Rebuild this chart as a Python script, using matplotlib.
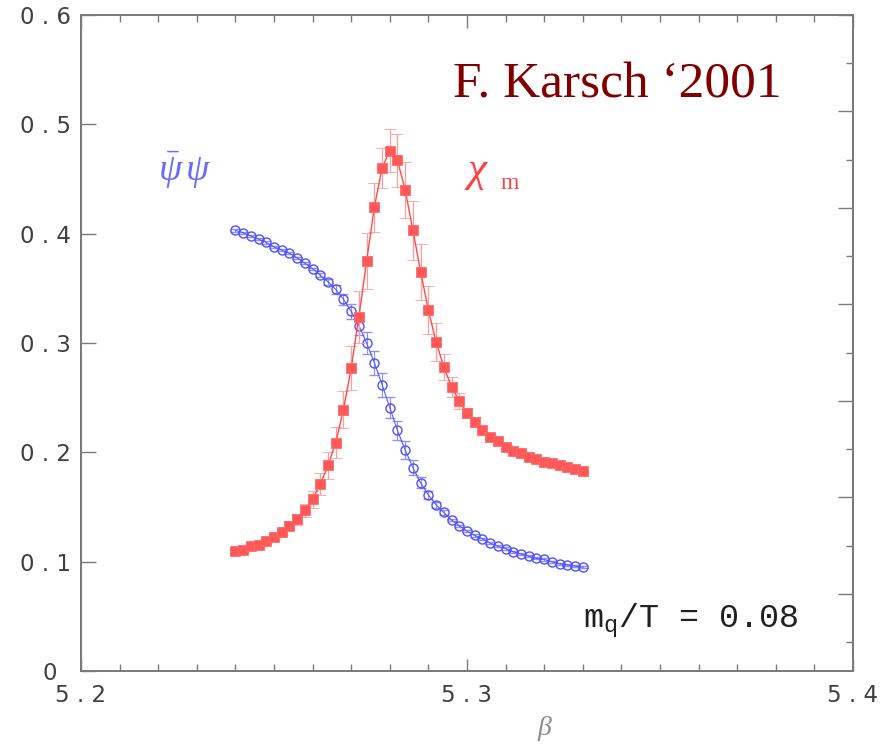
import numpy as np
import matplotlib.pyplot as plt
from matplotlib.ticker import MultipleLocator
from matplotlib.transforms import ScaledTranslation

plt.rcParams['mathtext.fontset'] = 'custom'
plt.rcParams['mathtext.rm'] = 'Liberation Serif'
plt.rcParams['mathtext.it'] = 'Liberation Serif:italic'
plt.rcParams['mathtext.tt'] = 'Liberation Mono'

# beta grid of the lattice data
beta = [5.240, 5.242, 5.244, 5.246, 5.248, 5.250, 5.252, 5.254, 5.256, 5.258,
        5.260, 5.262, 5.264, 5.266, 5.268, 5.270, 5.272, 5.274, 5.276, 5.278,
        5.280, 5.282, 5.284, 5.286, 5.288, 5.290, 5.292, 5.294, 5.296, 5.298,
        5.300, 5.302, 5.304, 5.306, 5.308, 5.310, 5.312, 5.314, 5.316, 5.318,
        5.320, 5.322, 5.324, 5.326, 5.328, 5.330]

# chiral condensate (blue circles)
pbp = [0.403, 0.401, 0.398, 0.395, 0.392, 0.388, 0.385, 0.382, 0.378, 0.373,
       0.368, 0.362, 0.356, 0.349, 0.340, 0.329, 0.316, 0.300, 0.282, 0.262,
       0.241, 0.220, 0.202, 0.186, 0.172, 0.161, 0.152, 0.145, 0.138, 0.133,
       0.128, 0.124, 0.121, 0.117, 0.114, 0.112, 0.109, 0.107, 0.105, 0.103,
       0.102, 0.100, 0.098, 0.097, 0.096, 0.095]
pbp_err = [0.001, 0.001, 0.001, 0.001, 0.001, 0.001, 0.001, 0.001, 0.001, 0.001,
           0.001, 0.002, 0.003, 0.004, 0.005, 0.007, 0.009, 0.010, 0.011, 0.011,
           0.010, 0.009, 0.008, 0.007, 0.005, 0.004, 0.003, 0.002, 0.001, 0.001,
           0.001, 0.001, 0.001, 0.001, 0.001, 0.001, 0.001, 0.001, 0.001, 0.001,
           0.001, 0.001, 0.001, 0.001, 0.001, 0.001]

# chiral susceptibility (red squares)
chi = [0.110, 0.111, 0.114, 0.115, 0.119, 0.123, 0.127, 0.133, 0.139, 0.147,
       0.157, 0.171, 0.188, 0.209, 0.239, 0.277, 0.324, 0.375, 0.424, 0.460,
       0.476, 0.467, 0.440, 0.403, 0.365, 0.330, 0.301, 0.278, 0.260, 0.247,
       0.236, 0.228, 0.220, 0.214, 0.210, 0.205, 0.201, 0.199, 0.196, 0.194,
       0.191, 0.190, 0.188, 0.187, 0.185, 0.183]
chi_err = [0.002, 0.002, 0.002, 0.002, 0.002, 0.002, 0.003, 0.004, 0.005, 0.006,
           0.008, 0.010, 0.012, 0.014, 0.017, 0.020, 0.024, 0.026, 0.022, 0.018,
           0.020, 0.024, 0.026, 0.027, 0.026, 0.022, 0.017, 0.012, 0.009, 0.007,
           0.005, 0.004, 0.003, 0.002, 0.002, 0.002, 0.002, 0.002, 0.002, 0.002,
           0.002, 0.002, 0.002, 0.002, 0.002, 0.002]

xtick_vals = [5.2, 5.3, 5.4]
xtick_labels = ['5 . 2', '5 . 3', '5 . 4']
ytick_vals = [0, 0.1, 0.2, 0.3, 0.4, 0.5, 0.6]
ytick_labels = ['0', '0 . 1', '0 . 2', '0 . 3', '0 . 4', '0 . 5', '0 . 6']

grey = '#7a7a7a'
label_grey = '#404040'

fig = plt.figure(figsize=(8.83, 7.44), dpi=100)
ax = fig.add_axes([0.0917, 0.0981, 0.8743, 0.8817])

ax.errorbar(beta, pbp, yerr=pbp_err, fmt='-o', color='#5a5aff', mfc='none',
            mec='#5050ff', ms=6.5, mew=1.0, lw=0.8, ecolor='#8f8fff',
            elinewidth=0.8, capsize=3.6, capthick=0.8, zorder=3)
ax.errorbar(beta, chi, yerr=chi_err, fmt='-s', color='#ff4a4a', mfc='#ff5858',
            mec='#ff6a6a', ms=6.6, mew=0.6, lw=1.0, ecolor='#ff9c9c',
            elinewidth=0.9, capsize=4.3, capthick=0.9, zorder=4)

ax.set_xlim(5.2, 5.4)
ax.set_ylim(0, 0.6)
ax.set_xticks(xtick_vals)
ax.set_xticklabels(xtick_labels, fontfamily='DejaVu Sans', fontsize=16.5,
                   color=label_grey)
ax.set_yticks(ytick_vals)
ax.set_yticklabels(ytick_labels, fontfamily='DejaVu Sans', fontsize=16.5,
                   color=label_grey)
ax.xaxis.set_minor_locator(MultipleLocator(0.01))
ax.tick_params(axis='x', which='both', direction='in', top=True, color=grey,
               width=1.0)
ax.tick_params(axis='x', which='major', length=9, pad=9)
ax.tick_params(axis='x', which='minor', length=5)
ax.tick_params(axis='y', which='major', direction='in', length=11, width=1.0,
               color=grey, right=False, pad=7)

# shift the lone "0" label left like the original
lab0 = ax.get_yticklabels()[0]
lab0.set_transform(lab0.get_transform() + ScaledTranslation(-10 / 72, 0, fig.dpi_scale_trans))

for s in ax.spines.values():
    s.set_color(grey)
    s.set_linewidth(1.3)

# right hand scale (ticks only)
ax2 = ax.twinx()
ax2.set_ylim(-0.08, 0.6)
ax2.yaxis.set_major_locator(MultipleLocator(0.1))
ax2.yaxis.set_minor_locator(MultipleLocator(0.05))
ax2.tick_params(which='both', direction='in', labelright=False, color=grey,
                width=1.0)
ax2.tick_params(which='major', length=11)
ax2.tick_params(which='minor', length=5)
for s in ax2.spines.values():
    s.set_color(grey)
    s.set_linewidth(1.3)

ax.text(0.601, -0.088, r'$\beta$', transform=ax.transAxes, ha='center',
        va='center', fontsize=20, color='#8a8a8a')

ax.text(5.2964, 0.525, 'F. Karsch \u20182001', fontfamily='Liberation Serif',
        fontsize=37, color='#800000', ha='left', va='baseline')
ax.text(5.2269, 0.458, r'$\bar{\psi}\,\psi$', fontsize=27, color='#6a6aff',
        ha='center', va='center')
ax.text(5.3026, 0.458, '\u03c7', fontfamily='Liberation Serif', style='italic',
        fontsize=31, color='#ff4040', ha='center', va='center')
ax.text(5.3111, 0.4463, 'm', fontfamily='Liberation Serif', fontsize=17,
        color='#ff4040', ha='center', va='center')
ax.text(5.3300, 0.0393, r'$\mathtt{m_q}$/T = 0.08', fontfamily='Liberation Mono',
        fontsize=24, color='#202020', ha='left', va='baseline')

fig.savefig('out.png', dpi=100)
